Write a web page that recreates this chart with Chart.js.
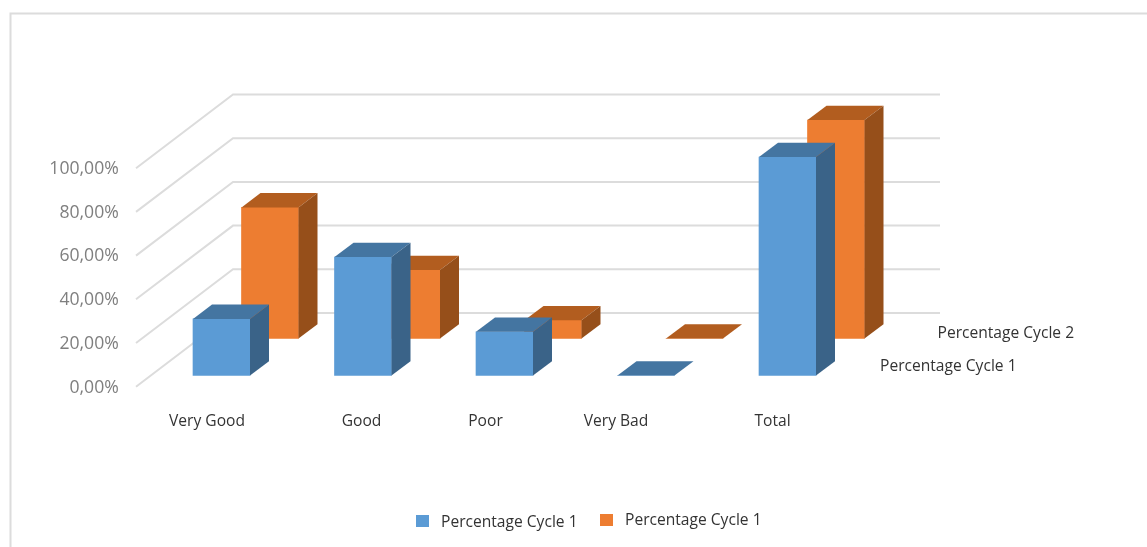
<!DOCTYPE html>
<html>
<head>
<meta charset="utf-8">
<title>Percentage per cycle</title>
<script src="https://cdn.jsdelivr.net/npm/chart.js@4/dist/chart.umd.min.js"></script>
<style>
    html, body { margin: 0; padding: 0; background: #fff; }
    #box { position: relative; width: 1147px; height: 547px; }
</style>
</head>
<body>
<div id="box"><canvas id="cycle-chart"></canvas></div>
<script>
const categories = ['Very Good', 'Good', 'Poor', 'Very Bad', 'Total'];
const cycle1Values = [25.9, 54.2, 20, 0, 100];
const cycle2Values = [60, 31.3, 8.3, 0, 100];
const legendLabels = ['Percentage Cycle 1', 'Percentage Cycle 1'];
const depthLabels = ['Percentage Cycle 1', 'Percentage Cycle 2'];
const yTicks = [0, 20, 40, 60, 80, 100];

// category names do not sit under the middle of their bars
const categoryShift = [-14.5, -1.5, -19, -30, -15];

const FONT = '"Open Sans", sans-serif';
const BLUE = { front: '#5b9bd5', top: '#4475a1', side: '#3a6388' };
const ORANGE = { front: '#ed7d31', top: '#b25d1f', side: '#964f1a' };

// a bar box is 19 wide and 14.3 high in depth, the second row sits one slot behind
const BOX_DX = 19, BOX_DY = 14.3;
const ROW_DX = [0, 48.5], ROW_DY = [0, -37];
// floor of the side wall, measured from the first row of bars
const WALL = { left: 136, back: 233, right: 940, frontDrop: 11.2, depth: 73.7 };

const faces = [BLUE, ORANGE];

const wallGrid = {
    id: 'wallGrid',
    beforeDatasetsDraw(chart) {
        const { ctx, scales: { y } } = chart;
        ctx.save();
        ctx.strokeStyle = '#dcdcdc';
        ctx.lineWidth = 2;
        yTicks.forEach((v) => {
            const front = y.getPixelForValue(v) + WALL.frontDrop;
            ctx.beginPath();
            ctx.moveTo(WALL.left, front);
            ctx.lineTo(WALL.back, front - WALL.depth);
            ctx.lineTo(WALL.right, front - WALL.depth);
            ctx.stroke();
        });
        ctx.restore();
    }
};

// shifts a row back in depth and adds the top and side faces of every box
const boxes = {
    id: 'boxes',
    beforeDatasetDraw(chart, args) {
        chart.ctx.save();
        chart.ctx.translate(ROW_DX[args.index], ROW_DY[args.index]);
    },
    afterDatasetDraw(chart, args) {
        const ctx = chart.ctx;
        const c = faces[args.index];
        args.meta.data.forEach((bar) => {
            const l = bar.x - bar.width / 2, r = bar.x + bar.width / 2;
            ctx.fillStyle = c.top;
            ctx.beginPath();
            ctx.moveTo(l, bar.y);
            ctx.lineTo(l + BOX_DX, bar.y - BOX_DY);
            ctx.lineTo(r + BOX_DX, bar.y - BOX_DY);
            ctx.lineTo(r, bar.y);
            ctx.closePath();
            ctx.fill();
            if (bar.base - bar.y > 0.5) {
                ctx.fillStyle = c.side;
                ctx.beginPath();
                ctx.moveTo(r, bar.y);
                ctx.lineTo(r + BOX_DX, bar.y - BOX_DY);
                ctx.lineTo(r + BOX_DX, bar.base - BOX_DY);
                ctx.lineTo(r, bar.base);
                ctx.closePath();
                ctx.fill();
            }
        });
        ctx.restore();
    }
};

const textAndFrame = {
    id: 'textAndFrame',
    afterDraw(chart) {
        const { ctx, scales: { x } } = chart;
        ctx.save();

        // outer frame, open on the right and at the bottom
        ctx.strokeStyle = '#dcdcdc';
        ctx.lineWidth = 2;
        ctx.beginPath();
        ctx.moveTo(10.5, 547);
        ctx.lineTo(10.5, 13.5);
        ctx.lineTo(1147, 13.5);
        ctx.stroke();

        ctx.textBaseline = 'middle';
        ctx.font = '15.6px ' + FONT;
        ctx.fillStyle = '#333333';

        ctx.textAlign = 'center';
        categories.forEach((name, i) => {
            ctx.fillText(name, x.getPixelForTick(i) + categoryShift[i], 421.5);
        });

        ctx.textAlign = 'left';
        ctx.fillText(depthLabels[0], 880, 367);
        ctx.fillText(depthLabels[1], 937.5, 334);

        // legend
        ctx.fillStyle = BLUE.front;
        ctx.fillRect(416, 515, 13, 12);
        ctx.fillStyle = ORANGE.front;
        ctx.fillRect(600, 514, 13, 12);
        ctx.fillStyle = '#333333';
        ctx.fillText(legendLabels[0], 441, 522.5);
        ctx.fillText(legendLabels[1], 625, 521);

        ctx.restore();
    }
};

new Chart(document.getElementById('cycle-chart'), {
    type: 'bar',
    data: {
        labels: categories,
        datasets: [
            { label: legendLabels[0], data: cycle1Values, backgroundColor: BLUE.front, clip: false },
            { label: legendLabels[1], data: cycle2Values, backgroundColor: ORANGE.front, clip: false }
        ]
    },
    options: {
        responsive: true,
        maintainAspectRatio: false,
        animation: false,
        grouped: false,
        barThickness: 57,
        layout: { padding: { top: 157, bottom: 171.5, left: 0, right: 288.75 } },
        plugins: {
            legend: { display: false },
            tooltip: { enabled: false }
        },
        scales: {
            x: {
                grid: { display: false, drawTicks: false },
                border: { display: false },
                ticks: { display: false }
            },
            y: {
                min: 0,
                max: 100,
                afterFit(scale) { scale.width = 150.75; },
                afterBuildTicks(scale) { scale.ticks = yTicks.map((value) => ({ value })); },
                grid: { display: false, drawTicks: false },
                border: { display: false },
                ticks: {
                    padding: 32,
                    labelOffset: 12,
                    color: '#7f7f7f',
                    font: { family: FONT, size: 17.6 },
                    callback: (v) => v.toFixed(2).replace('.', ',') + '%'
                }
            }
        }
    },
    plugins: [wallGrid, boxes, textAndFrame]
});
</script>
</body>
</html>
